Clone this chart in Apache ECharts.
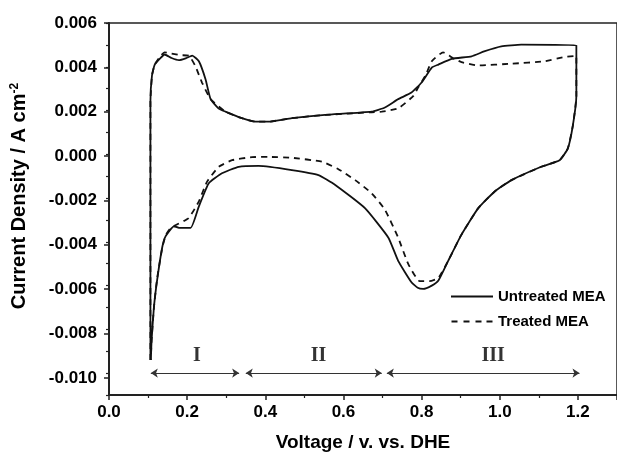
<!DOCTYPE html>
<html>
<head>
<meta charset="utf-8">
<script src="https://cdn.jsdelivr.net/npm/echarts@6/dist/echarts.min.js"></script>
<style>
  html, body { margin: 0; padding: 0; background: #fff; }
  #cv { width: 617px; height: 457px; }
</style>
</head>
<body>
<div id="cv"></div>
<script>
// untreated MEA, anodic sweep then cathodic sweep (V, A cm-2)
var untreatedV = [0.106, 0.106, 0.110, 0.117, 0.132, 0.142, 0.160, 0.179, 0.198, 0.213, 0.230, 0.247, 0.260, 0.280, 0.298, 0.340, 0.375, 0.408, 0.468, 0.553, 0.672, 0.706, 0.740, 0.774, 0.800, 0.826, 0.843, 0.877, 0.928, 0.960, 1.004, 1.055, 1.196, 1.196,
                  1.187, 1.174, 1.153, 1.106, 1.030, 0.987, 0.945, 0.902, 0.868, 0.843, 0.826, 0.804, 0.790, 0.774, 0.740, 0.715, 0.655, 0.579, 0.536, 0.468, 0.383, 0.332, 0.289, 0.255, 0.230, 0.209, 0.179, 0.166, 0.145, 0.136, 0.123, 0.115, 0.109, 0.107];
var untreatedJ = [-0.0094, 0.0024, 0.0036, 0.0041, 0.0044, 0.00456, 0.0044, 0.0043, 0.0044, 0.00451, 0.00425, 0.00343, 0.00252, 0.0021, 0.00195, 0.00165, 0.00149, 0.00149, 0.00165, 0.0018, 0.00195, 0.00214, 0.00252, 0.00282, 0.00328, 0.00396, 0.0041, 0.00436, 0.00448, 0.0047, 0.00493, 0.00501, 0.00498, 0.00267,
                  0.00131, 0.00026, -0.00027, -0.00057, -0.00118, -0.0017, -0.00246, -0.00367, -0.00487, -0.00577, -0.0060, -0.00615, -0.0061, -0.00585, -0.00487, -0.00381, -0.00246, -0.0014, -0.00095, -0.00072, -0.00053, -0.00057, -0.00087, -0.00133, -0.00238, -0.00336, -0.00336, -0.00329, -0.00374, -0.00427, -0.00577, -0.00698, -0.00849, -0.0094];

// treated MEA
var treatedV = [0.106, 0.106, 0.110, 0.117, 0.132, 0.142, 0.160, 0.183, 0.205, 0.221, 0.238, 0.260, 0.298, 0.340, 0.375, 0.408, 0.468, 0.553, 0.672, 0.698, 0.740, 0.779, 0.791, 0.810, 0.826, 0.855, 0.880, 0.902, 0.945, 1.030, 1.115, 1.166, 1.196, 1.196,
                1.187, 1.174, 1.153, 1.106, 1.030, 0.987, 0.945, 0.902, 0.868, 0.843, 0.820, 0.795, 0.766, 0.740, 0.706, 0.672, 0.630, 0.587, 0.545, 0.468, 0.408, 0.366, 0.315, 0.281, 0.251, 0.230, 0.204, 0.170, 0.158, 0.145, 0.136, 0.123, 0.115, 0.109, 0.107];
var treatedJ = [-0.0094, 0.0024, 0.0036, 0.0041, 0.0045, 0.00466, 0.0046, 0.00453, 0.0045, 0.00403, 0.00328, 0.00252, 0.00195, 0.00165, 0.00149, 0.00149, 0.00165, 0.0018, 0.00192, 0.00195, 0.0021, 0.00267, 0.00305, 0.0036, 0.00425, 0.00466, 0.0044, 0.00421, 0.00406, 0.00414, 0.00425, 0.00445, 0.0045, 0.00267,
                0.00131, 0.00026, -0.00027, -0.00057, -0.00118, -0.0017, -0.00246, -0.00367, -0.00487, -0.00565, -0.0058, -0.0058, -0.00502, -0.00381, -0.00253, -0.00178, -0.00118, -0.00068, -0.00034, -0.00016, -0.00012, -0.00013, -0.00027, -0.00057, -0.00125, -0.00215, -0.00291, -0.00324, -0.00336, -0.0037, -0.0043, -0.0057, -0.007, -0.0085, -0.0094];

// potential regions marked under the curves
var regionNames = ['I', 'II', 'III'];
var regionStart = [0.107, 0.350, 0.711];
var regionEnd = [0.333, 0.698, 1.204];
var regionLabelV = [0.225, 0.536, 0.983];
var regionArrowJ = -0.010;
var regionLabelJ = -0.0092;

function pairs(xs, ys) {
    var out = [];
    for (var i = 0; i < xs.length; i++) out.push([xs[i], ys[i]]);
    return out;
}

var chart = echarts.init(document.getElementById('cv'));

var arrowData = regionNames.map(function (n, i) {
    return { coords: [[regionStart[i], regionArrowJ], [regionEnd[i], regionArrowJ]] };
});
var labelData = regionNames.map(function (n, i) {
    return { name: n, value: [regionLabelV[i], regionLabelJ] };
});

var sans = 'Liberation Sans, Arial, sans-serif';
// main plot: -0.011 .. 0.006 over 377px; labelled axis: -0.010 .. 0.006 on the same scale
var plotH = 377;
var labelH = plotH * 16 / 17;

chart.setOption({
    animation: false,
    backgroundColor: '#fff',
    grid: [
        { left: 109, top: 23, width: 510, height: plotH, show: true, borderColor: '#222', borderWidth: 1.5 },
        { left: 109, top: 23, width: 510, height: labelH }
    ],
    legend: {
        orient: 'vertical',
        left: 446, top: 284,
        itemWidth: 42, itemHeight: 2, itemGap: 10,
        data: [
            { name: 'Untreated MEA', icon: 'path://M0,0h42v2h-42z' },
            { name: 'Treated MEA', icon: 'path://M1,0h6v2h-6zM13,0h6v2h-6zM25,0h6v2h-6zM36,0h6v2h-6z' }
        ],
        textStyle: { fontFamily: sans, fontWeight: 'bold', fontSize: 15, color: '#000' }
    },
    xAxis: [
        {
            type: 'value', min: 0, max: 1.3, interval: 0.2,
            name: 'Voltage / v. vs. DHE',
            nameLocation: 'middle', nameGap: 38,
            nameTextStyle: { fontFamily: sans, fontWeight: 'bold', fontSize: 19, color: '#000' },
            axisLine: { onZero: false, lineStyle: { color: '#222', width: 2 } },
            axisTick: { length: 5, lineStyle: { color: '#222', width: 1.5 } },
            minorTick: { show: true, splitNumber: 2, length: 3, lineStyle: { color: '#222', width: 1.2 } },
            splitLine: { show: false },
            axisLabel: {
                margin: 9, fontSize: 17, fontFamily: sans, fontWeight: 'bold', color: '#000',
                showMaxLabel: false,
                formatter: function (v) { return v.toFixed(1); }
            }
        },
        { type: 'value', gridIndex: 1, min: 0, max: 1.3, show: false }
    ],
    yAxis: [
        {
            type: 'value', min: -0.011, max: 0.006, interval: 0.001,
            name: '{a|Current Density / A cm}{s|-2}',
            nameLocation: 'middle', nameGap: 80, nameRotate: 90,
            nameTextStyle: {
                padding: [0, 0, 0, 26],
                rich: {
                    a: { fontFamily: sans, fontWeight: 'bold', fontSize: 20, color: '#000' },
                    s: { fontFamily: sans, fontWeight: 'bold', fontSize: 12, color: '#000', verticalAlign: 'top' }
                }
            },
            axisLine: { onZero: false, lineStyle: { color: '#222', width: 2 } },
            axisTick: { length: 3, lineStyle: { color: '#222', width: 1.2 } },
            splitLine: { show: false },
            axisLabel: { show: false }
        },
        {
            type: 'value', gridIndex: 1, min: -0.010, max: 0.006, interval: 0.002,
            axisLine: { show: false },
            axisTick: { length: 5, lineStyle: { color: '#222', width: 1.5 } },
            splitLine: { show: false },
            axisLabel: {
                margin: 12, fontSize: 17, fontFamily: sans, fontWeight: 'bold', color: '#000',
                formatter: function (v) { return v.toFixed(3); }
            }
        }
    ],
    series: [
        {
            name: 'Untreated MEA', type: 'line', showSymbol: false, symbol: 'none', smooth: 0.15,
            data: pairs(untreatedV, untreatedJ),
            lineStyle: { color: '#111', width: 1.8 }, itemStyle: { color: '#111' }
        },
        {
            name: 'Treated MEA', type: 'line', showSymbol: false, symbol: 'none', smooth: 0.15,
            data: pairs(treatedV, treatedJ),
            lineStyle: { color: '#111', width: 1.8, type: [6, 5] }, itemStyle: { color: '#111' }
        },
        {
            type: 'lines', coordinateSystem: 'cartesian2d',
            symbol: ['arrow', 'arrow'], symbolSize: 7,
            lineStyle: { color: '#333', width: 1, opacity: 1 },
            data: arrowData, silent: true
        },
        {
            type: 'scatter', symbolSize: 0, silent: true,
            data: labelData,
            label: {
                show: true, position: 'inside', formatter: '{b}',
                fontFamily: 'Liberation Serif, Times New Roman, serif', fontWeight: 'bold', fontSize: 20, color: '#000'
            }
        }
    ]
});
</script>
</body>
</html>
